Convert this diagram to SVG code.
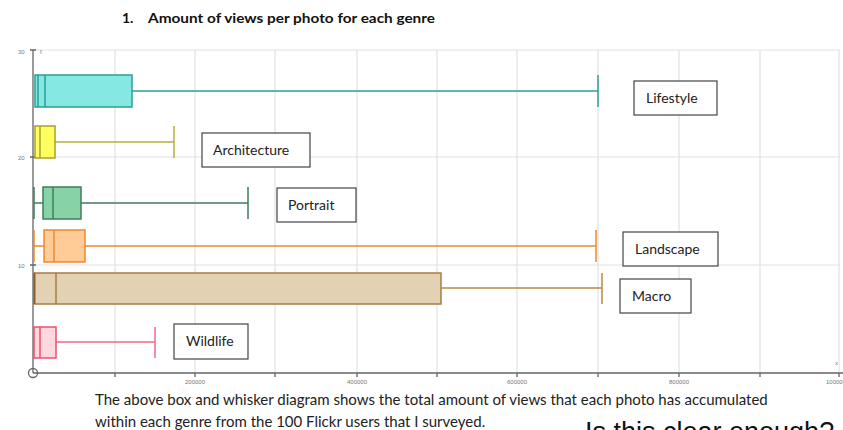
<svg xmlns="http://www.w3.org/2000/svg" width="843" height="430" viewBox="0 0 843 430">
  <style>
    .grid { stroke: #e2e2e2; stroke-width: 1.2; fill: none; }
    .axis { stroke: #666; stroke-width: 1.3; fill: none; }
    .tick { font-family: "Liberation Sans", Arial, sans-serif; font-size: 6px; fill: #777; }
    .lbl rect { fill: #fff; stroke: #444; stroke-width: 1.2; }
    .lbl text { font-family: Lato, "Open Sans", sans-serif; font-size: 14px; fill: #222; }
    .title { font-family: Lato, "Open Sans", sans-serif; font-size: 14px; font-weight: bold; fill: #111; }
    .cap { font-family: Lato, "Open Sans", sans-serif; font-size: 15px; fill: #222; }
    .wh { stroke-width: 1.5; fill: none; }
    .bx { stroke-width: 1.5; }
  </style>

  <rect width="843" height="430" fill="#fff"/>

  <text class="title" x="122" y="23">1.</text>
  <text class="title" x="148" y="23" textLength="287" lengthAdjust="spacingAndGlyphs">Amount of views per photo for each genre</text>

  <!-- plot grid -->
  <g id="grid">
    <path class="grid" d="M33 50H840 M33 157H840 M33 265H840"/>
    <path class="grid" d="M115 50V373 M195 50V373 M275 50V373 M357 50V373 M437 50V373 M517 50V373 M598 50V373 M679 50V373 M760 50V373 M839 50V373"/>
  </g>

  <!-- axes -->
  <g id="axes">
    <path class="axis" d="M33 50V373 M33 373H843"/>
    <path class="axis" d="M30 50H36 M30 157H36 M30 265H36"/>
    <path class="axis" d="M115 373V377 M195 373V377 M275 373V377 M357 373V377 M437 373V377 M517 373V377 M598 373V377 M679 373V377 M760 373V377 M839 373V377"/>
    <circle cx="33" cy="373" r="4.5" fill="none" stroke="#666" stroke-width="1.3"/>
    <text class="tick" x="18" y="54">30</text>
    <text class="tick" x="18" y="160">20</text>
    <text class="tick" x="18" y="268">10</text>
    <text class="tick" x="40" y="54">f</text>
    <text class="tick" x="835" y="365">x</text>
    <text class="tick" x="195" y="384" text-anchor="middle">200000</text>
    <text class="tick" x="357" y="384" text-anchor="middle">400000</text>
    <text class="tick" x="517" y="384" text-anchor="middle">600000</text>
    <text class="tick" x="679" y="384" text-anchor="middle">800000</text>
    <text class="tick" x="826" y="384">1000000</text>
  </g>

  <!-- box plots -->
  <g id="lifestyle-plot">
    <path class="wh" stroke="#2aa096" d="M132 91H598 M598 75V107"/>
    <rect class="bx" x="35" y="75" width="97" height="32" fill="#86e8e2" stroke="#2aa096"/>
    <path class="wh" stroke="#2aa096" d="M38 75V107 M45 75V107"/>
  </g>
  <g id="architecture-plot">
    <path class="wh" stroke="#b4b040" d="M55 142H174 M174 126V158"/>
    <rect class="bx" x="35" y="126" width="20" height="32" fill="#ffff60" stroke="#a8a030"/>
    <path class="wh" stroke="#a8a030" d="M40 126V158"/>
  </g>
  <g id="portrait-plot">
    <path class="wh" stroke="#3f7d5c" d="M34 203H43 M34 187V219 M81 203H248 M248 187V219"/>
    <rect class="bx" x="43" y="187" width="38" height="32" fill="#88d2a8" stroke="#3f7d5c"/>
    <path class="wh" stroke="#3f7d5c" d="M53 187V219"/>
  </g>
  <g id="landscape-plot">
    <path class="wh" stroke="#ec8a2c" d="M34 246H44 M34 230V262 M85 246H596 M596 230V262"/>
    <rect class="bx" x="44" y="230" width="41" height="32" fill="#ffcc98" stroke="#ec8a2c"/>
    <path class="wh" stroke="#ec8a2c" d="M54 230V262"/>
  </g>
  <g id="macro-plot">
    <path class="wh" stroke="#b8884a" d="M441 288H602 M602 273V304"/>
    <rect class="bx" x="34" y="273" width="407" height="31" fill="#e2d1b2" stroke="#a87c40"/>
    <path class="wh" stroke="#a87c40" d="M56 273V304"/>
    <path stroke="#8a6030" stroke-width="2" d="M34.5 273V304"/>
  </g>
  <g id="wildlife-plot">
    <path class="wh" stroke="#f26a84" d="M56 342H155 M155 327V358"/>
    <rect class="bx" x="34" y="327" width="22" height="31" fill="#ffd8df" stroke="#f0506e"/>
    <path class="wh" stroke="#f0506e" d="M40 327V358"/>
  </g>

  <!-- genre labels -->
  <g id="lifestyle" class="lbl"><rect x="634" y="81" width="83" height="34"/><text x="646" y="103">Lifestyle</text></g>
  <g id="architecture" class="lbl"><rect x="202" y="133" width="108" height="34"/><text x="213" y="155">Architecture</text></g>
  <g id="portrait" class="lbl"><rect x="277" y="188" width="79" height="34"/><text x="288" y="210">Portrait</text></g>
  <g id="landscape" class="lbl"><rect x="623" y="232" width="95" height="34"/><text x="635" y="254">Landscape</text></g>
  <g id="macro" class="lbl"><rect x="620" y="279" width="71" height="34"/><text x="632" y="301">Macro</text></g>
  <g id="wildlife" class="lbl"><rect x="174" y="324" width="74" height="35"/><text x="186" y="346">Wildlife</text></g>

  <text class="cap" x="95" y="405">The above box and whisker diagram shows the total amount of views that each photo has accumulated</text>
  <text class="cap" x="95" y="427">within each genre from the 100 Flickr users that I surveyed.</text>
  <text x="585" y="441" font-family="Liberation Sans, Arial, sans-serif" font-size="27" fill="#111">Is this clear enough?</text>
</svg>
